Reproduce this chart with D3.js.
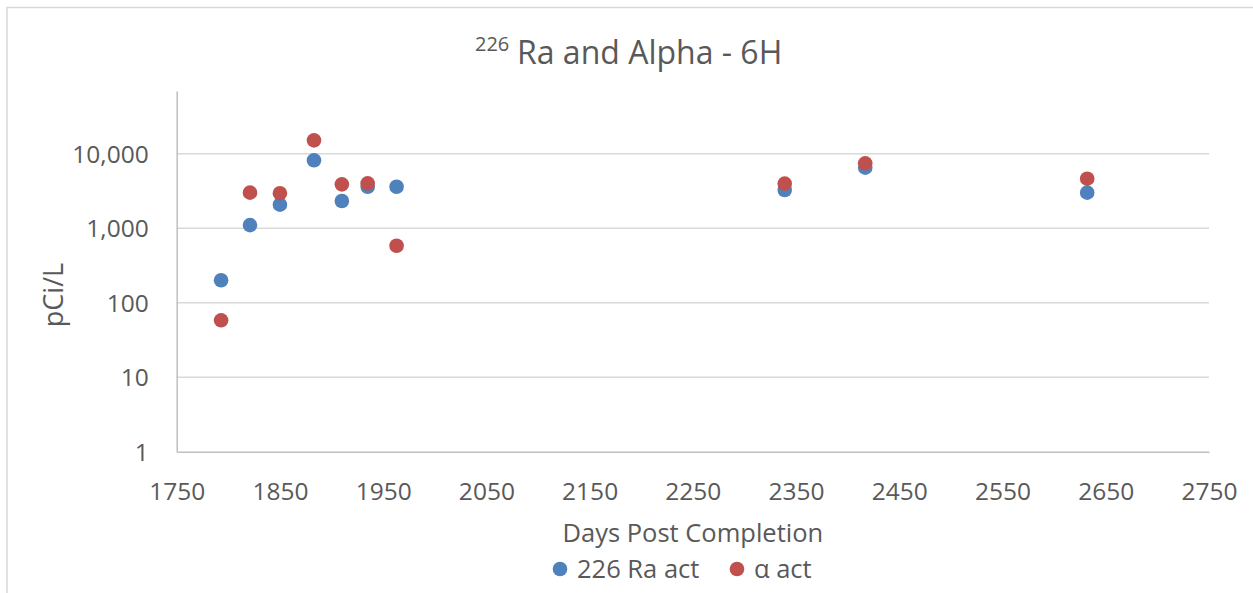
<!DOCTYPE html>
<html>
<head>
<meta charset="utf-8">
<script src="https://cdn.jsdelivr.net/npm/d3@7"></script>
<style>
  html, body { margin: 0; padding: 0; background: #fff; }
  svg text { font-family: "Open Sans", "Liberation Sans", sans-serif; fill: #595959; }
</style>
</head>
<body>
<div id="chart"></div>
<script>
// ---- data ----
const days = [1793, 1821, 1850, 1883, 1910, 1935, 1963, 2339, 2417, 2632];
const raAct = [200, 1100, 2070, 8150, 2320, 3600, 3600, 3260, 6490, 3000];
const alphaAct = [58, 3000, 2950, 15100, 3880, 4000, 582, 3960, 7430, 4620];
const xTicks = [1750, 1850, 1950, 2050, 2150, 2250, 2350, 2450, 2550, 2650, 2750];
const yTicks = [1, 10, 100, 1000, 10000];
const seriesNames = ["226 Ra act", "\u03b1 act"];
const colors = ["#4f81bd", "#c0504d"];

(function () {
  const W = 1253, H = 593;
  const plot = { left: 176.7, right: 1209, top: 91, bottom: 451.7 };

  const svg = d3.select("#chart").append("svg")
    .attr("width", W).attr("height", H);

  // chart border (only top/left visible in the frame)
  svg.append("rect")
    .attr("x", 7).attr("y", 7.5)
    .attr("width", W + 20).attr("height", H + 20)
    .attr("fill", "none").attr("stroke", "#d9d9d9").attr("stroke-width", 1.5);

  const x = d3.scaleLinear().domain([1750, 2750]).range([plot.left, plot.right]);
  // log axis: one decade ~74.5px, top of plot sits above 10,000
  const decade = (plot.bottom - 153.7) / 4;
  const yMax = Math.pow(10, (plot.bottom - plot.top) / decade);
  const y = d3.scaleLog().domain([1, yMax]).range([plot.bottom, plot.top]);

  // gridlines
  svg.append("g")
    .selectAll("line")
    .data(yTicks.slice(1))
    .join("line")
    .attr("x1", plot.left).attr("x2", plot.right)
    .attr("y1", d => y(d)).attr("y2", d => y(d))
    .attr("stroke", "#d9d9d9").attr("stroke-width", 1.5);

  // axes
  const xAxis = d3.axisBottom(x).tickValues(xTicks).tickSize(0)
    .tickFormat(d3.format("d"));
  const xg = svg.append("g")
    .attr("transform", `translate(0,${plot.bottom})`)
    .call(xAxis);
  xg.select(".domain").attr("stroke", "#bfbfbf").attr("stroke-width", 1.5);
  xg.selectAll(".tick text").attr("font-size", 24.5).attr("dy", 0).attr("y", 48.5);

  const yAxis = d3.axisLeft(y).tickValues(yTicks).tickSize(0).tickPadding(28)
    .tickFormat(d3.format(","));
  const yg = svg.append("g")
    .attr("transform", `translate(${plot.left},0)`)
    .call(yAxis);
  yg.select(".domain").attr("stroke", "#bfbfbf").attr("stroke-width", 1.5);
  yg.selectAll(".tick text").attr("font-size", 24.5).attr("dy", "0.35em");
  svg.selectAll(".tick text").attr("fill", "#595959")
    .style("font-family", "'Open Sans', 'Liberation Sans', sans-serif");

  // points: Ra first, alpha drawn on top
  [raAct, alphaAct].forEach((vals, i) => {
    svg.append("g")
      .selectAll("circle")
      .data(days.map((d, j) => ({ day: d, v: vals[j] })))
      .join("circle")
      .attr("cx", d => x(d.day))
      .attr("cy", d => y(d.v))
      .attr("r", 7.3)
      .attr("fill", colors[i]);
  });

  // title with superscript
  const title = svg.append("text").attr("y", 64);
  title.append("tspan").attr("x", 475).attr("y", 51).attr("font-size", 20).text("226");
  title.append("tspan").attr("x", 517).attr("y", 64).attr("font-size", 32).text("Ra and Alpha - 6H");

  // axis titles
  svg.append("text")
    .attr("x", (plot.left + plot.right) / 2).attr("y", 542)
    .attr("text-anchor", "middle").attr("font-size", 25.5)
    .text("Days Post Completion");

  svg.append("text")
    .attr("transform", "translate(63,295) rotate(-90)")
    .attr("text-anchor", "middle").attr("font-size", 27)
    .text("pCi/L");

  // legend
  const legendX = [560, 737];
  const lg = svg.append("g");
  seriesNames.forEach((name, i) => {
    lg.append("circle").attr("cx", legendX[i]).attr("cy", 569).attr("r", 7.3).attr("fill", colors[i]);
    lg.append("text").attr("x", legendX[i] + 17).attr("y", 578)
      .attr("font-size", 25.5).text(name);
  });
})();
</script>
</body>
</html>
